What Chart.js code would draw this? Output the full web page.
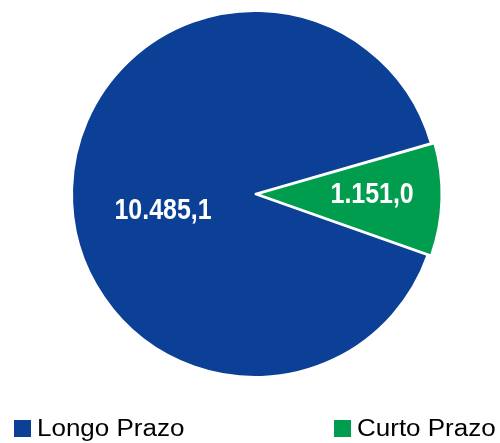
<!DOCTYPE html>
<html>
<head>
<meta charset="utf-8">
<script src="https://cdn.jsdelivr.net/npm/chart.js@4"></script>
<style>
  html, body { margin: 0; padding: 0; background: #fff; }
  #wrap { position: relative; width: 500px; height: 443px; }
</style>
</head>
<body>
<div id="wrap"><canvas id="debtChart" width="500" height="443"></canvas></div>
<script>
const categories = ["Longo Prazo", "Curto Prazo"];
const values = [10485.1, 1151.0];
const valueLabels = ["10.485,1", "1.151,0"];
const colors = ["#0C4096", "#009D4F"];

// label placement: fraction of radius and angle shift (deg) per slice
const labelRadius = [0.51, 0.64];
const labelShift = [-11.5, -1.5];
const legendX = [14, 334];

const sliceLabels = {
  id: "sliceLabels",
  afterDatasetsDraw(chart) {
    const ctx = chart.ctx;
    const arcs = chart.getDatasetMeta(0).data;
    ctx.save();
    ctx.fillStyle = "#fff";
    ctx.font = "bold 29px 'Liberation Sans', Arial, sans-serif";
    ctx.textAlign = "center";
    ctx.textBaseline = "middle";
    arcs.forEach((arc, i) => {
      const p = arc.getProps(["x", "y", "startAngle", "endAngle", "outerRadius"], true);
      const mid = (p.startAngle + p.endAngle) / 2 + labelShift[i] * Math.PI / 180;
      const r = p.outerRadius * labelRadius[i];
      const x = p.x + Math.cos(mid) * r;
      const y = p.y + Math.sin(mid) * r;
      ctx.save();
      ctx.translate(x, y + 1);
      ctx.scale(0.86, 1);
      ctx.fillText(valueLabels[i], 0, 0);
      ctx.restore();
    });
    // legend
    ctx.textAlign = "left";
    ctx.textBaseline = "alphabetic";
    ctx.font = "23px 'Liberation Sans', Arial, sans-serif";
    categories.forEach((name, i) => {
      ctx.fillStyle = colors[i];
      ctx.fillRect(legendX[i], 420, 17, 17);
      ctx.fillStyle = "#000";
      ctx.save();
      ctx.translate(legendX[i] + 23, 436);
      ctx.scale(1.13, 1);
      ctx.fillText(name, 0, 0);
      ctx.restore();
    });
    ctx.restore();
  }
};

new Chart(document.getElementById("debtChart"), {
  type: "pie",
  data: {
    labels: categories,
    datasets: [{
      data: values,
      backgroundColor: colors,
      borderColor: "#fff",
      borderWidth: 2,
      offset: [0, 10],
      hoverOffset: 0
    }]
  },
  options: {
    responsive: false,
    animation: false,
    rotation: 109.5,
    layout: { padding: { left: 66, right: 56, top: 5, bottom: 60 } },
    plugins: {
      legend: { display: false },
      tooltip: { enabled: false }
    }
  },
  plugins: [sliceLabels]
});
</script>
</body>
</html>
